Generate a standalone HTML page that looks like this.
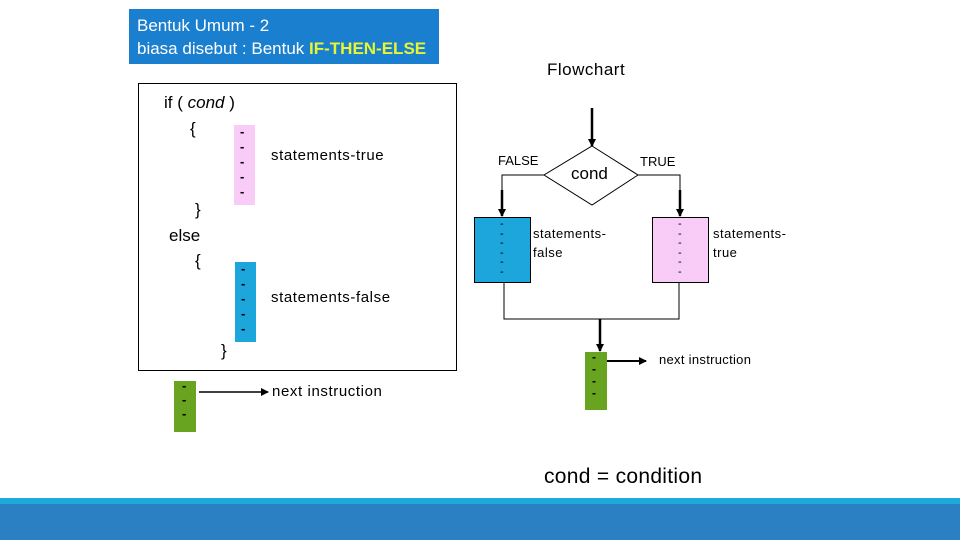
<!DOCTYPE html>
<html><head><meta charset="utf-8"><style>
body{margin:0;width:960px;height:540px;background:#fff;position:relative;overflow:hidden;font-family:"Liberation Sans",sans-serif;}
.a{position:absolute;}
.t{position:absolute;white-space:nowrap;color:#000;}
</style></head><body>
<div class="a" style="left:129px;top:9px;width:310px;height:55px;background:#1a7fcf;"></div>
<div class="t" style="left:137px;top:14px;font-size:17px;color:#fff;line-height:23px;">Bentuk Umum - 2<br>biasa disebut : Bentuk <b style="color:#e8f530">IF-THEN-ELSE</b></div>
<div class="a" style="left:138px;top:83px;width:317px;height:286px;border:1px solid #000;"></div>
<div class="t" style="left:164px;top:93px;font-size:17px;">if ( <i>cond</i> )</div>
<div class="t" style="left:190px;top:119px;font-size:17px;">{</div>
<div class="t" style="left:195px;top:200px;font-size:17px;">}</div>
<div class="t" style="left:169px;top:226px;font-size:17px;">else</div>
<div class="t" style="left:195px;top:251px;font-size:17px;">{</div>
<div class="t" style="left:221px;top:341px;font-size:17px;">}</div>
<div class="a" style="left:234px;top:125px;width:21px;height:80px;background:#f9ccf7;"></div>
<div class="a" style="left:235px;top:262px;width:21px;height:80px;background:#1da6dc;"></div>
<div class="a" style="left:174px;top:381px;width:22px;height:51px;background:#69a420;"></div>
<div class="t" style="left:240px;top:124px;font-size:13px;line-height:15px;font-weight:bold;">-<br>-<br>-<br>-<br>-</div>
<div class="t" style="left:241px;top:261px;font-size:13px;line-height:15px;font-weight:bold;">-<br>-<br>-<br>-<br>-</div>
<div class="t" style="left:182px;top:379px;font-size:13px;line-height:14px;font-weight:bold;">-<br>-<br>-</div>
<div class="t" style="left:271px;top:147px;font-size:15px;letter-spacing:0.6px;">statements-true</div>
<div class="t" style="left:271px;top:289px;font-size:15px;letter-spacing:0.6px;">statements-false</div>
<div class="t" style="left:272px;top:383px;font-size:15px;letter-spacing:0.6px;">next instruction</div>
<div class="t" style="left:547px;top:60px;font-size:17px;letter-spacing:0.5px;">Flowchart</div>
<div class="t" style="left:498px;top:153px;font-size:13px;">FALSE</div>
<div class="t" style="left:640px;top:154px;font-size:13px;">TRUE</div>
<div class="a" style="left:474px;top:217px;width:57px;height:66px;background:#1da6dc;border:1px solid #000;box-sizing:border-box;"></div>
<div class="a" style="left:652px;top:217px;width:57px;height:66px;background:#f9ccf7;border:1px solid #000;box-sizing:border-box;"></div>
<div class="a" style="left:585px;top:352px;width:22px;height:58px;background:#69a420;"></div>
<div class="t" style="left:500px;top:220px;font-size:11px;line-height:9.5px;">-<br>-<br>-<br>-<br>-<br>-</div>
<div class="t" style="left:678px;top:220px;font-size:11px;line-height:9.5px;">-<br>-<br>-<br>-<br>-<br>-</div>
<div class="t" style="left:592px;top:351px;font-size:12px;line-height:12px;font-weight:bold;">-<br>-<br>-<br>-</div>
<div class="t" style="left:533px;top:224px;font-size:13px;line-height:19px;letter-spacing:0.5px;">statements-<br>false</div>
<div class="t" style="left:713px;top:224px;font-size:13px;line-height:19px;letter-spacing:0.5px;">statements-<br>true</div>
<div class="t" style="left:659px;top:352px;font-size:13px;letter-spacing:0.3px;">next instruction</div>
<div class="t" style="left:544px;top:465px;font-size:21px;letter-spacing:0.3px;">cond = condition</div>
<svg class="a" style="left:0;top:0" width="960" height="540">
<defs><marker id="m" markerWidth="8" markerHeight="8" refX="7" refY="4" orient="auto" markerUnits="userSpaceOnUse"><path d="M0,0 L8,4 L0,8 z" fill="#000"/></marker></defs>
<line x1="199" y1="392" x2="268" y2="392" stroke="#000" stroke-width="1.5" marker-end="url(#m)"/>
<line x1="592" y1="108" x2="592" y2="146" stroke="#000" stroke-width="2.5" marker-end="url(#m)"/>
<polygon points="592,146 638,175 592,205 544,175" fill="#fff" stroke="#000" stroke-width="1"/>
<polyline points="544,175 502,175 502,216" fill="none" stroke="#000" stroke-width="1"/>
<line x1="502" y1="190" x2="502" y2="216" stroke="#000" stroke-width="2.5" marker-end="url(#m)"/>
<polyline points="638,175 680,175 680,216" fill="none" stroke="#000" stroke-width="1"/>
<line x1="680" y1="190" x2="680" y2="216" stroke="#000" stroke-width="2.5" marker-end="url(#m)"/>
<polyline points="504,283 504,319 679,319 679,283" fill="none" stroke="#000" stroke-width="1"/>
<line x1="600" y1="319" x2="600" y2="351" stroke="#000" stroke-width="2.5" marker-end="url(#m)"/>
<line x1="607" y1="361" x2="646" y2="361" stroke="#000" stroke-width="2" marker-end="url(#m)"/>
</svg>
<div class="t" style="left:571px;top:164px;font-size:17px;">cond</div>
<div class="a" style="left:0;top:498px;width:960px;height:6px;background:#1fa8dc;"></div>
<div class="a" style="left:0;top:504px;width:960px;height:36px;background:#2a80c3;"></div>
</body></html>
